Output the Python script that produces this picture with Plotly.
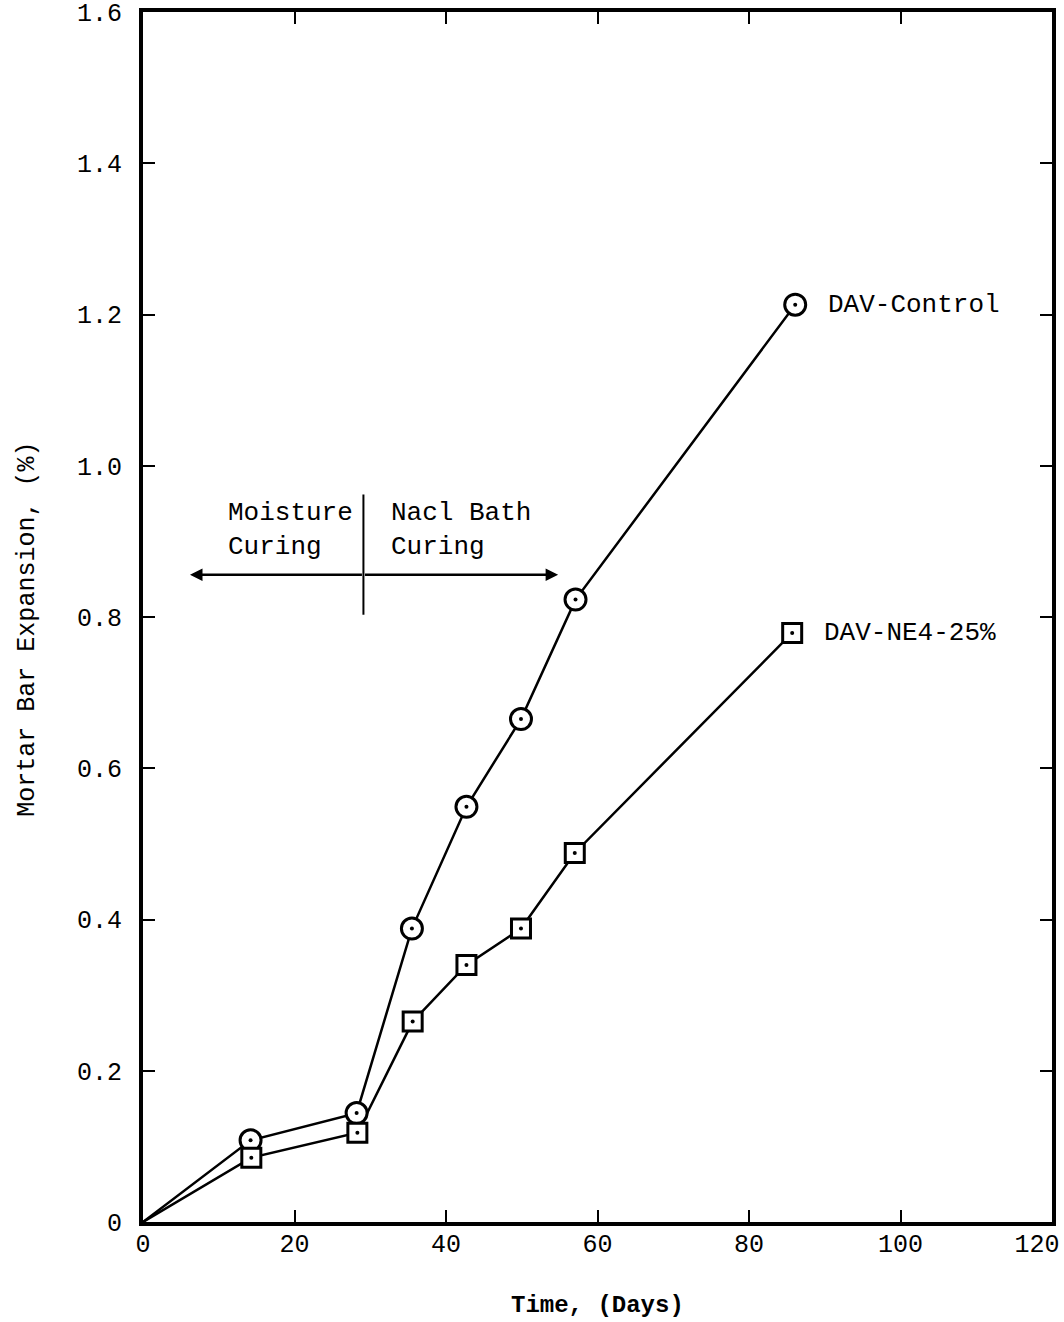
from plotly import graph_objects as go

# days and expansion (%)
days_control = [0, 14.2, 28.2, 35.5, 42.7, 49.9, 57.1, 86.1]
exp_control = [0, 0.108, 0.144, 0.388, 0.549, 0.665, 0.823, 1.213]

days_ne4 = [0, 14.3, 28.3, 35.6, 42.7, 49.9, 57.0, 85.7]
exp_ne4 = [0, 0.085, 0.118, 0.265, 0.340, 0.388, 0.488, 0.779]

x_ticks = [0, 20, 40, 60, 80, 100, 120]
x_labels = ["0", "20", "40", "60", "80", "100", "120&nbsp;&nbsp;"]  # last one nudged off the edge
y_ticks = [0, 0.2, 0.4, 0.6, 0.8, 1.0, 1.2, 1.4, 1.6]
y_labels = ["0", "0.2", "0.4", "0.6", "0.8", "1.0", "1.2", "1.4", "1.6"]

FONT = "Liberation Mono, Courier New, monospace"

fig = go.Figure()
fig.add_trace(go.Scatter(x=days_control, y=exp_control, mode="lines",
                         line=dict(color="black", width=2.5), showlegend=False))
fig.add_trace(go.Scatter(x=days_ne4, y=exp_ne4, mode="lines",
                         line=dict(color="black", width=2.5), showlegend=False))
fig.add_trace(go.Scatter(x=days_control[1:], y=exp_control[1:], mode="markers",
                         marker=dict(symbol="circle", size=21, color="white",
                                     line=dict(color="black", width=3)),
                         showlegend=False))
fig.add_trace(go.Scatter(x=days_control[1:], y=exp_control[1:], mode="markers",
                         marker=dict(symbol="circle", size=4, color="black"),
                         showlegend=False))
fig.add_trace(go.Scatter(x=days_ne4[1:], y=exp_ne4[1:], mode="markers",
                         marker=dict(symbol="square", size=19, color="white",
                                     line=dict(color="black", width=3)),
                         showlegend=False))
fig.add_trace(go.Scatter(x=days_ne4[1:], y=exp_ne4[1:], mode="markers",
                         marker=dict(symbol="circle", size=4, color="black"),
                         showlegend=False))

# curing regime annotation
fig.add_shape(type="line", x0=29.1, x1=29.1, y0=0.803, y1=0.962,
              line=dict(color="black", width=2))
fig.add_annotation(x=6.2, y=0.856, ax=29.1, ay=0.856, xref="x", yref="y",
                   axref="x", ayref="y", text="", showarrow=True,
                   arrowhead=2, arrowsize=1, arrowwidth=2.5, arrowcolor="black")
fig.add_annotation(x=54.8, y=0.856, ax=29.1, ay=0.856, xref="x", yref="y",
                   axref="x", ayref="y", text="", showarrow=True,
                   arrowhead=2, arrowsize=1, arrowwidth=2.5, arrowcolor="black")
fig.add_annotation(x=28.0, y=0.915, text="Moisture<br>Curing", showarrow=False,
                   xanchor="right", align="left", font=dict(family=FONT, size=26, color="black"))
fig.add_annotation(x=32.5, y=0.915, text="Nacl Bath<br>Curing", showarrow=False,
                   xanchor="left", align="left", font=dict(family=FONT, size=26, color="black"))

fig.add_annotation(x=90.2, y=exp_control[-1], text="DAV-Control", showarrow=False,
                   xanchor="left", font=dict(family=FONT, size=26, color="black"))
fig.add_annotation(x=89.6, y=exp_ne4[-1], text="DAV-NE4-25%", showarrow=False,
                   xanchor="left", font=dict(family=FONT, size=26, color="black"))

# axis titles
fig.add_annotation(x=-0.127, y=0.49, xref="paper", yref="paper", text="Mortar Bar Expansion, (%)",
                   textangle=-90, showarrow=False, xanchor="center", yanchor="middle",
                   font=dict(family=FONT, size=25, color="black"))
fig.add_annotation(x=0.5, y=-0.069, xref="paper", yref="paper", text="<b>Time, (Days)</b>",
                   showarrow=False, xanchor="center", yanchor="middle",
                   font=dict(family=FONT, size=24, color="black"))

axis_common = dict(showgrid=False, zeroline=False, showline=True, linecolor="black",
                   linewidth=4, mirror="ticks", ticks="inside", ticklen=12,
                   tickwidth=2, tickcolor="black", automargin=False,
                   ticklabeloverflow="allow",
                   tickfont=dict(family=FONT, size=25, color="black"))

fig.update_xaxes(range=[0, 120], tickvals=x_ticks, ticktext=x_labels,
                 ticklabelstandoff=-4, **axis_common)
fig.update_yaxes(range=[0, 1.6], tickvals=y_ticks, ticktext=y_labels,
                 ticklabelstandoff=12, **axis_common)

fig.update_layout(width=1064, height=1322, plot_bgcolor="white", paper_bgcolor="white",
                  margin=dict(l=143, r=12, t=12, b=100))
# drop the browser's default page margin so the figure sits at the window origin
fig.write_html("out.html", config={"displayModeBar": False},
               post_script="document.body.style.margin = '0';")
